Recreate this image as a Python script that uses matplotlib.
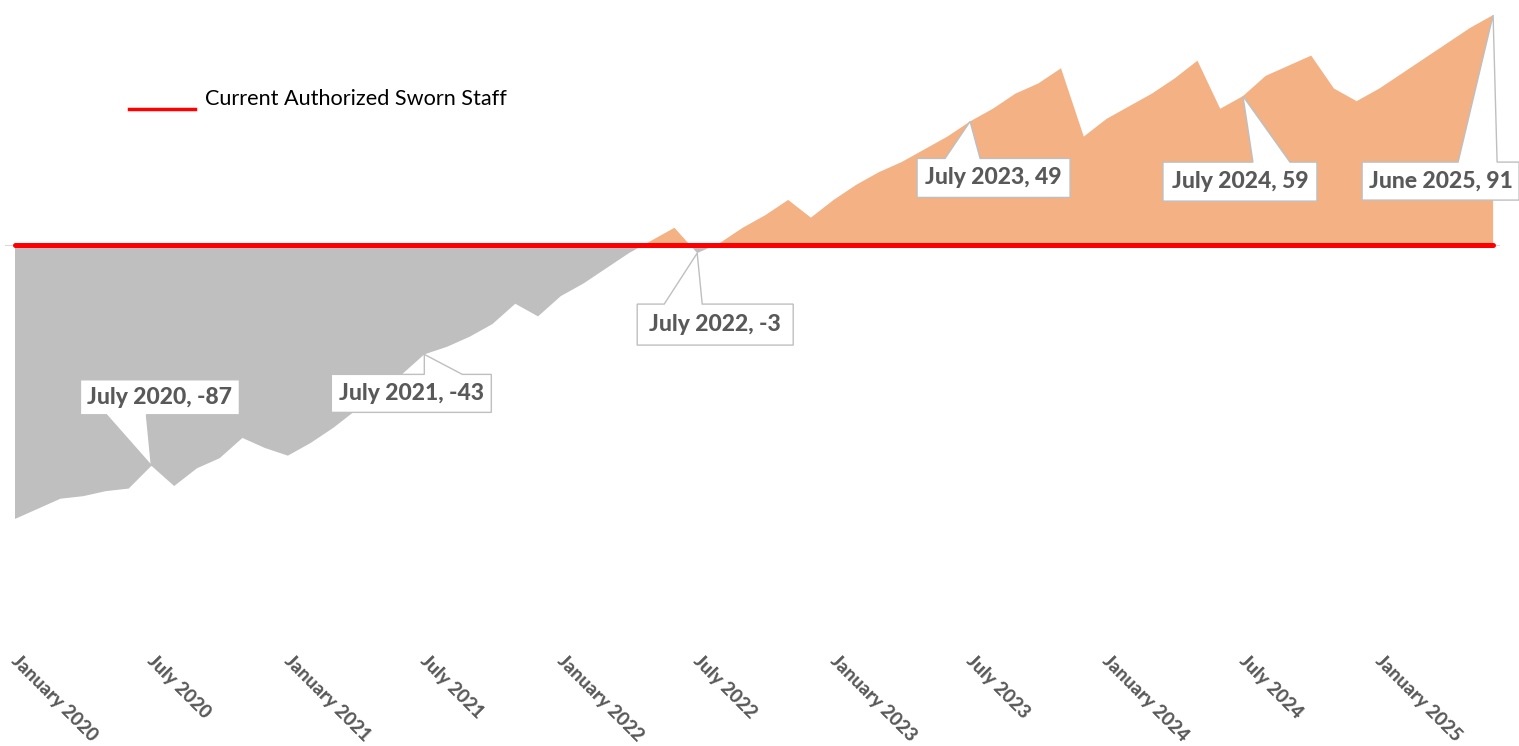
import matplotlib
matplotlib.use("Agg")
import matplotlib.pyplot as plt
import numpy as np
import pandas as pd
from matplotlib.patches import Polygon
from matplotlib.lines import Line2D
from matplotlib.transforms import IdentityTransform, ScaledTranslation

plt.rcParams['font.family'] = ['Lato', 'DejaVu Sans']

# ---------------- data ----------------
month_labels = pd.date_range("2020-01-01", periods=66, freq="MS").strftime("%B %Y").tolist()

staffing_gap = [
    -108, -104, -100, -99, -97, -96, -87, -95, -88, -84, -76, -80,   # 2020
    -83, -78, -72, -65, -58, -51, -43, -40, -36, -31, -23, -28,      # 2021
    -20, -15, -9, -3, 2, 7, -3, 1, 7, 12, 18, 11,                    # 2022
    18, 24, 29, 33, 38, 43, 49, 54, 60, 64, 70, 43,                  # 2023
    50, 55, 60, 66, 73, 54, 59, 67, 71, 75, 62, 57,                  # 2024
    62, 68, 74, 80, 86, 91,                                          # 2025
]
authorized_level = 0
series_name = "Current Authorized Sworn Staff"

tick_months = ["January 2020", "July 2020", "January 2021", "July 2021",
               "January 2022", "July 2022", "January 2023", "July 2023",
               "January 2024", "July 2024", "January 2025"]
callout_months = ["July 2020", "July 2021", "July 2022", "July 2023",
                  "July 2024", "June 2025"]

# ---------------- layout (pixels) ----------------
W, H, DPI = 1519, 746, 100
PX_ZERO, PX_PER_UNIT = 245.5, 2.532
PX_X0, PX_PER_MONTH = 15.0, 22.74
AX_L, AX_R, AX_T, AX_B = 4.8, 1500.0, 0.0, 630.0

GRAY = "#BFBFBF"
ORANGE = "#F4B183"
RED = "#FF0000"
TXT = "#595959"

# callout geometry relative to the data point (pixels, y down):
# (box_left, box_right, box_top, box_bottom, wedge_left, wedge_right, wedge_side)
callout_geom = [
    (-71, 88, -86, -51, -45, -5, "bottom"),
    (-93, 67, 20, 58, 0, 38, "top"),
    (-60, 96, 51, 92, -33, 5, "top"),
    (-53, 100, 37, 76, -25, 10, "top"),
    (-80, 74, 66, 105, 10, 47, "top"),
    (-131, 26, 147, 185, -35, 4, "top"),
]

x = np.arange(len(staffing_gap))
y = np.array(staffing_gap, dtype=float)

fig = plt.figure(figsize=(W / DPI, H / DPI), dpi=DPI)
ax = fig.add_axes([AX_L / W, 1 - AX_B / H, (AX_R - AX_L) / W, (AX_B - AX_T) / H])
ax.set_xlim((AX_L - PX_X0) / PX_PER_MONTH, (AX_R - PX_X0) / PX_PER_MONTH)
ax.set_ylim((PX_ZERO - AX_B) / PX_PER_UNIT, (PX_ZERO - AX_T) / PX_PER_UNIT)

ax.fill_between(x, y, authorized_level, where=y < authorized_level, interpolate=True,
                color=GRAY, lw=0, zorder=1)
ax.fill_between(x, y, authorized_level, where=y >= authorized_level, interpolate=True,
                color=ORANGE, lw=0, zorder=1)
ax.axhline(authorized_level, color="#D9D9D9", lw=0.8, zorder=0.5)
ax.plot(x, np.full(len(x), authorized_level), color=RED, lw=3.6,
        solid_capstyle="round", zorder=5)

for s in ax.spines.values():
    s.set_visible(False)
ax.set_yticks([])
ax.set_xticks([month_labels.index(m) for m in tick_months])
ax.set_xticklabels(tick_months, rotation=-45, ha="left", va="top",
                   rotation_mode="anchor", fontweight="black", color=TXT, fontsize=13.5)
ax.tick_params(axis="x", length=0, pad=16)
for lab in ax.get_xticklabels():
    lab.set_transform(lab.get_transform() + ScaledTranslation(5 / DPI, 0, fig.dpi_scale_trans))

# callouts
fig.canvas.draw()
for name, (bl, br, bt, bb, wl, wr, side) in zip(callout_months, callout_geom):
    i = month_labels.index(name)
    dx, dy = ax.transData.transform((i, y[i]))
    tx, ty = dx, H - dy  # image pixel coords
    L, R, T, B = tx + bl, tx + br, ty + bt, ty + bb
    WL, WR = tx + wl, tx + wr
    if side == "top":
        verts = [(L, T), (WL, T), (tx, ty), (WR, T), (R, T), (R, B), (L, B)]
    else:
        verts = [(L, T), (R, T), (R, B), (WR, B), (tx, ty), (WL, B), (L, B)]
    disp = [(vx, H - vy) for vx, vy in verts]
    fig.add_artist(Polygon(disp, closed=True, transform=IdentityTransform(),
                           facecolor="white", edgecolor=GRAY, lw=1.0, zorder=4))
    label = f"{name}, {int(y[i])}"
    fig.text((L + R) / 2 / W, 1 - (T + B) / 2 / H, label, ha="center", va="center",
             fontsize=16.5, fontweight="black", color=TXT, zorder=6)

# legend
fig.add_artist(Line2D([129 / W, 195 / W], [1 - 109 / H, 1 - 109 / H], color=RED, lw=2.5))
fig.text(205 / W, 1 - 105 / H, series_name, ha="left", va="baseline", fontsize=15.6,
         color="#000000")

fig.savefig("out.png", dpi=DPI)
